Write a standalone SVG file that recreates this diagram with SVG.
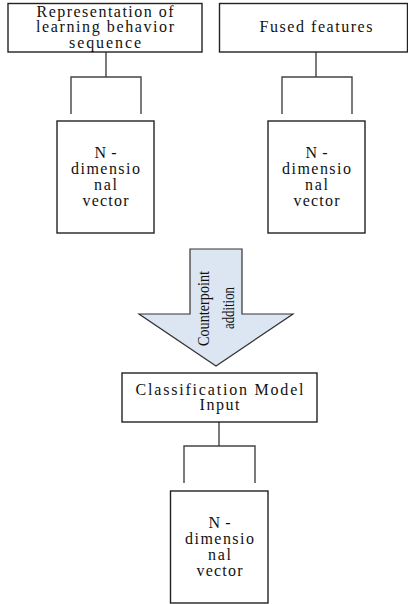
<svg xmlns="http://www.w3.org/2000/svg" width="408" height="604" viewBox="0 0 408 604">
<style>
.box{fill:#fff;stroke:#222;stroke-width:1.4}
.ln{fill:none;stroke:#444;stroke-width:1.4}
text{font-family:'Liberation Serif','Times New Roman','DejaVu Serif',serif;fill:#111;text-anchor:middle}
.t{font-size:16px}
.ta{font-size:17px}
.arrow{fill:#dce6f2;stroke:#333;stroke-width:1.2}
</style>
<rect width="408" height="604" fill="#fff"/>
<g id="connectors">
<path class="ln" d="M106 52V77M71 114V77H141V114"/>
<path class="ln" d="M316 52V77M282 114V77H352V114"/>
<path class="ln" d="M219 422V446M184 483V446H255V483"/>
</g>
<g id="n1">
<rect class="box" x="8" y="3.5" width="194" height="48.5"/>
<text class="t" x="105" y="16.5" textLength="137" lengthAdjust="spacing">Representation of</text>
<text class="t" x="105" y="32" textLength="138" lengthAdjust="spacing">learning behavior</text>
<text class="t" x="105" y="47.5" textLength="72" lengthAdjust="spacing">sequence</text>
</g>
<g id="n2">
<rect class="box" x="219.5" y="3.5" width="188" height="48.5"/>
<text class="t" x="316" y="32" textLength="113" lengthAdjust="spacing">Fused features</text>
</g>
<g id="n3">
<rect class="box" x="57" y="121" width="97" height="112"/>
<text class="t" x="105.5" y="158" textLength="22" lengthAdjust="spacing">N-</text>
<text class="t" x="105.5" y="174" textLength="69" lengthAdjust="spacing">dimensio</text>
<text class="t" x="105.5" y="190" textLength="23" lengthAdjust="spacing">nal</text>
<text class="t" x="105.5" y="205.5" textLength="46" lengthAdjust="spacing">vector</text>
</g>
<g id="n4">
<rect class="box" x="268" y="121" width="97" height="112"/>
<text class="t" x="316.5" y="158" textLength="22" lengthAdjust="spacing">N-</text>
<text class="t" x="316.5" y="174" textLength="69" lengthAdjust="spacing">dimensio</text>
<text class="t" x="316.5" y="190" textLength="23" lengthAdjust="spacing">nal</text>
<text class="t" x="316.5" y="205.5" textLength="46" lengthAdjust="spacing">vector</text>
</g>
<g id="arrow">
<polygon class="arrow" points="190,249 242,249 242,314 293,314 216,366 139,314 190,314"/>
<text class="ta" transform="translate(209,308.5) rotate(-90)" textLength="75" lengthAdjust="spacingAndGlyphs">Counterpoint</text>
<text class="ta" transform="translate(234,308) rotate(-90)" textLength="42" lengthAdjust="spacingAndGlyphs">addition</text>
</g>
<g id="n5">
<rect class="box" x="122" y="373" width="195" height="49"/>
<text class="t" x="219.5" y="394.5" textLength="168" lengthAdjust="spacing">Classification Model</text>
<text class="t" x="219.5" y="410" textLength="40" lengthAdjust="spacing">Input</text>
</g>
<g id="n6">
<rect class="box" x="170.5" y="491" width="97.5" height="112"/>
<text class="t" x="219.5" y="528" textLength="22" lengthAdjust="spacing">N-</text>
<text class="t" x="219.5" y="544" textLength="69" lengthAdjust="spacing">dimensio</text>
<text class="t" x="219.5" y="560" textLength="23" lengthAdjust="spacing">nal</text>
<text class="t" x="219.5" y="575.5" textLength="46" lengthAdjust="spacing">vector</text>
</g>
</svg>
